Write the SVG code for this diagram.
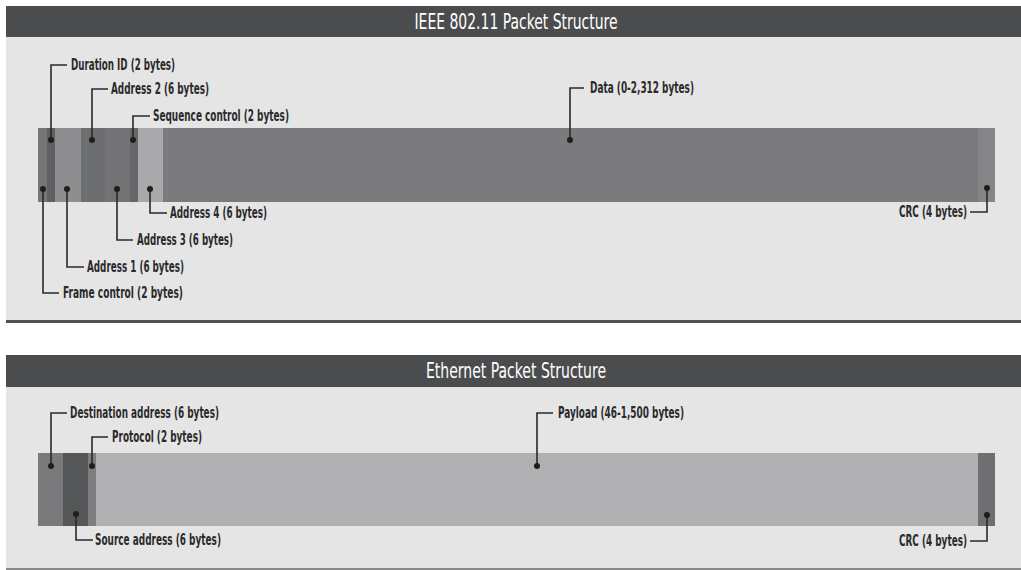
<svg xmlns="http://www.w3.org/2000/svg" width="1021" height="570" viewBox="0 0 1021 570">
<style>
.panel{fill:#e5e5e6}
.hdr{fill:#4b4c4e}
.title{font-family:"Liberation Sans Narrow","DejaVu Sans Condensed","Liberation Sans",sans-serif;font-size:21px;fill:#ffffff;text-anchor:middle}
.lbl{font-family:"Liberation Sans Narrow","DejaVu Sans Condensed","Liberation Sans",sans-serif;font-size:15px;font-weight:bold;fill:#2a2a2a}
.end{text-anchor:end}
.lead{fill:none;stroke:#2a2a2a;stroke-width:1.6}
.dot{fill:#1e1e1e}
</style>
<rect x="0" y="0" width="1021" height="570" fill="#ffffff"/>
<g id="panel-80211">
<rect class="panel" x="6" y="37" width="1015" height="284"/>
<rect class="hdr" x="6" y="6" width="1015" height="31"/>
<rect x="6" y="320" width="1015" height="3" fill="#505153"/>
<text class="title" x="516" y="29" textLength="203" lengthAdjust="spacingAndGlyphs">IEEE 802.11 Packet Structure</text>
</g>
<g id="bar-80211">
<rect id="fc" x="38" y="128" width="9" height="74" fill="#767678"/>
<rect id="dur" x="47" y="128" width="8" height="74" fill="#5f6062"/>
<rect id="a1" x="55" y="128" width="26" height="74" fill="#8e8e90"/>
<rect id="a2" x="81" y="128" width="24" height="74" fill="#6d6e70"/>
<rect id="a3" x="105" y="128" width="25" height="74" fill="#737375"/>
<rect id="seq" x="130" y="128" width="8" height="74" fill="#666769"/>
<rect id="a4" x="138" y="128" width="25" height="74" fill="#a9a9ab"/>
<rect id="data" x="163" y="128" width="815" height="74" fill="#7b7b7d"/>
<rect id="crc1" x="978" y="128" width="17" height="74" fill="#858587"/>
</g>
<g id="panel-eth">
<rect class="panel" x="6" y="387" width="1015" height="181"/>
<rect class="hdr" x="6" y="355" width="1015" height="32"/>
<rect x="6" y="568" width="1015" height="2" fill="#8a8a8c"/>
<text class="title" x="516" y="378" textLength="180" lengthAdjust="spacingAndGlyphs">Ethernet Packet Structure</text>
</g>
<g id="bar-eth">
<rect id="dst" x="38" y="453" width="25" height="73" fill="#7a7a7c"/>
<rect id="src" x="63" y="453" width="25" height="73" fill="#555658"/>
<rect id="proto" x="88" y="453" width="8" height="73" fill="#7e7e80"/>
<rect id="payload" x="96" y="453" width="882" height="73" fill="#b0b0b2"/>
<rect id="crc2" x="978" y="453" width="17" height="73" fill="#6f6f71"/>
</g>
<g id="connectors">
<polyline class="lead" points="51,140 51,65 67,65"/>
<polyline class="lead" points="92,140 92,89 108,89"/>
<polyline class="lead" points="133,140 133,116 150,116"/>
<polyline class="lead" points="150,189 150,213 167,213"/>
<polyline class="lead" points="117,189 117,240 133,240"/>
<polyline class="lead" points="67,189 67,267 84,267"/>
<polyline class="lead" points="43,189 43,293 59,293"/>
<polyline class="lead" points="570,140 570,88 584,88"/>
<polyline class="lead" points="987,188 987,212 970,212"/>
<polyline class="lead" points="51,466 51,413 67,413"/>
<polyline class="lead" points="92,466 92,437 108,437"/>
<polyline class="lead" points="76,514 76,540 93,540"/>
<polyline class="lead" points="537,466 537,413 553,413"/>
<polyline class="lead" points="987,515 987,541 970,541"/>
<circle class="dot" cx="51" cy="140" r="3"/>
<circle class="dot" cx="92" cy="140" r="3"/>
<circle class="dot" cx="133" cy="140" r="3"/>
<circle class="dot" cx="150" cy="189" r="3"/>
<circle class="dot" cx="117" cy="189" r="3"/>
<circle class="dot" cx="67" cy="189" r="3"/>
<circle class="dot" cx="43" cy="189" r="3"/>
<circle class="dot" cx="570" cy="140" r="3"/>
<circle class="dot" cx="987" cy="188" r="3"/>
<circle class="dot" cx="51" cy="466" r="3"/>
<circle class="dot" cx="92" cy="466" r="3"/>
<circle class="dot" cx="76" cy="514" r="3"/>
<circle class="dot" cx="537" cy="466" r="3"/>
<circle class="dot" cx="987" cy="515" r="3"/>
</g>
<g id="labels">
<text class="lbl" x="71" y="70" textLength="104" lengthAdjust="spacingAndGlyphs">Duration ID (2 bytes)</text>
<text class="lbl" x="111" y="94" textLength="98" lengthAdjust="spacingAndGlyphs">Address 2 (6 bytes)</text>
<text class="lbl" x="153" y="121" textLength="136" lengthAdjust="spacingAndGlyphs">Sequence control (2 bytes)</text>
<text class="lbl" x="170" y="218" textLength="97" lengthAdjust="spacingAndGlyphs">Address 4 (6 bytes)</text>
<text class="lbl" x="137" y="245" textLength="96" lengthAdjust="spacingAndGlyphs">Address 3 (6 bytes)</text>
<text class="lbl" x="87" y="272" textLength="97" lengthAdjust="spacingAndGlyphs">Address 1 (6 bytes)</text>
<text class="lbl" x="63" y="298" textLength="120" lengthAdjust="spacingAndGlyphs">Frame control (2 bytes)</text>
<text class="lbl" x="590" y="93" textLength="104" lengthAdjust="spacingAndGlyphs">Data (0-2,312 bytes)</text>
<text class="lbl" x="899" y="217" textLength="68" lengthAdjust="spacingAndGlyphs">CRC (4 bytes)</text>
<text class="lbl" x="70" y="418" textLength="149" lengthAdjust="spacingAndGlyphs">Destination address (6 bytes)</text>
<text class="lbl" x="112" y="442" textLength="90" lengthAdjust="spacingAndGlyphs">Protocol (2 bytes)</text>
<text class="lbl" x="95" y="545" textLength="126" lengthAdjust="spacingAndGlyphs">Source address (6 bytes)</text>
<text class="lbl" x="558" y="418" textLength="126" lengthAdjust="spacingAndGlyphs">Payload (46-1,500 bytes)</text>
<text class="lbl" x="899" y="546" textLength="68" lengthAdjust="spacingAndGlyphs">CRC (4 bytes)</text>
</g>
</svg>
